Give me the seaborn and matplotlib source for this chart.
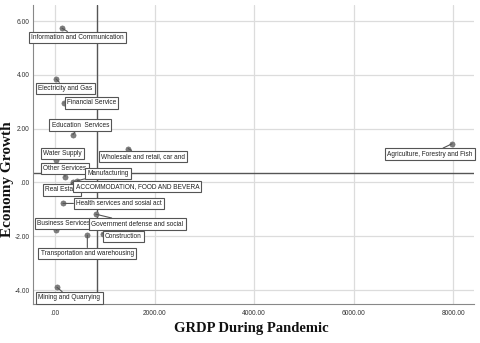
import matplotlib
matplotlib.use("Agg")
import matplotlib.pyplot as plt
import seaborn as sns
import pandas as pd

sectors = [
    "Information and Communication", "Electricity and Gas", "Financial Service",
    "Education  Services", "Water Supply", "Wholesale and retail, car and",
    "Agriculture, Forestry and Fish", "Other Services", "Manufacturing",
    "Real Estate", "ACCOMMODATION, FOOD AND BEVERA", "Health services and sosial act",
    "Business Services", "Government defense and social", "Construction",
    "Transportation and warehousing", "Mining and Quarrying",
]
grdp = [140, 20, 180, 360, 20, 1470, 7980, 200, 450, 360, 470, 160, 30, 820, 960, 650, 40]
growth = [5.74, 3.85, 2.96, 1.78, 0.85, 1.26, 1.44, 0.22, 0.07, 0.0, -0.1, -0.78, -1.78, -1.18, -1.9, -1.96, -3.9]

x_ticks = [0, 2000, 4000, 6000, 8000]
x_tick_labels = [".00", "2000.00", "4000.00", "6000.00", "8000.00"]
y_ticks = [-4, -2, 0, 2, 4, 6]
y_tick_labels = ["-4.00", "-2.00", ".00", "2.00", "4.00", "6.00"]
ref_x = 845
ref_y = 0.37

# label offsets in pixels (layout only)
label_offsets = [
    (15.5, -9.5), (9.5, -9.5), (27.5, 0), (7.5, 9.5), (6.5, 6), (15, -8),
    (-22, -10.5), (0, 8), (31, 7), (-11, -7.5), (59, -1.5), (56, 0),
    (7, 7), (41.5, -10), (20.5, -3), (0, -18.5), (12.5, -10.5),
]

df = pd.DataFrame({"sector": sectors, "grdp": grdp, "growth": growth})

sns.set_style("white")
plt.rcParams["font.family"] = ["Liberation Sans", "DejaVu Sans"]

fig = plt.figure(figsize=(4.8, 3.43), dpi=100)
ax = fig.add_axes([0.06875, 0.1137, 0.91875, 0.8717])

ax.set_xlim(-442, 8420)
ax.set_ylim(-4.52, 6.6)
ax.set_xticks(x_ticks)
ax.set_xticklabels(x_tick_labels)
ax.set_yticks(y_ticks)
ax.set_yticklabels(y_tick_labels)
ax.grid(True, color="#dcdcdc", lw=0.9)
ax.set_axisbelow(True)
ax.tick_params(length=0, labelsize=4.8, colors="#333333")
ax.tick_params(axis="y", pad=2.5)
ax.tick_params(axis="x", pad=4.5)
for side in ["top", "right"]:
    ax.spines[side].set_visible(False)
for side in ["left", "bottom"]:
    ax.spines[side].set_color("#888888")
    ax.spines[side].set_linewidth(0.8)

ax.axvline(ref_x, color="#555555", lw=1.0, zorder=2)
ax.axhline(ref_y, color="#555555", lw=1.0, zorder=2)

sns.scatterplot(data=df, x="grdp", y="growth", ax=ax, color="#7f7f7f",
                s=14, edgecolor="#6a6a6a", linewidth=0.4, zorder=4, legend=False)

for name, xv, yv, (dx, dy) in zip(sectors, grdp, growth, label_offsets):
    ax.annotate(
        name, xy=(xv, yv), xytext=(dx, dy), textcoords="offset pixels",
        ha="center", va="center", fontsize=4.7, color="#222222", zorder=5,
        bbox=dict(boxstyle="square,pad=0.35", fc="white", ec="#555555", lw=0.8),
        arrowprops=dict(arrowstyle="-", color="#555555", lw=0.8,
                        shrinkA=0, shrinkB=0),
    )

ax.set_xlabel("GRDP During Pandemic", family=["Liberation Serif", "DejaVu Serif"],
              fontweight="bold", fontsize=10.5, color="#111111")
ax.set_ylabel("Economy Growth", family=["Liberation Serif", "DejaVu Serif"],
              fontweight="bold", fontsize=11, color="#111111")
ax.xaxis.set_label_coords(0.495, -0.06)
ax.yaxis.set_label_coords(-0.043, 0.418)

fig.savefig("out.png", dpi=100)
